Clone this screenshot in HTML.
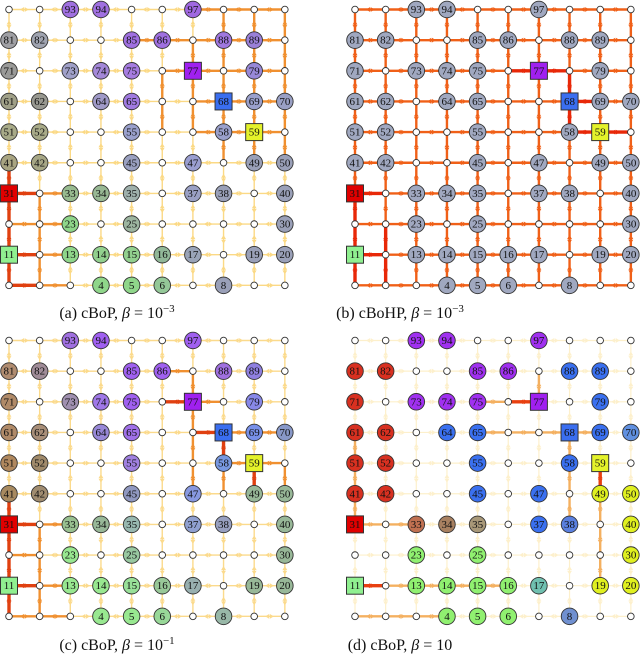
<!DOCTYPE html>
<html><head><meta charset="utf-8">
<style>
body{margin:0;background:#fff;width:640px;height:657px;overflow:hidden}
svg{display:block}
.cap{font-family:"Liberation Serif",serif;font-size:16px;fill:#111}
.lbl{font-family:"Liberation Serif",serif;font-size:11px;fill:#111;text-anchor:middle;dominant-baseline:central}
</style></head>
<body>
<svg id="fig" width="640" height="657" viewBox="0 0 640 657">
<text class="cap" x="117" y="318" text-anchor="middle">(a) cBoP, <tspan font-style="italic">β</tspan> = 10<tspan dy="-6" font-size="11">−3</tspan></text>
<text class="cap" x="400" y="318" text-anchor="middle">(b) cBoHP, <tspan font-style="italic">β</tspan> = 10<tspan dy="-6" font-size="11">−3</tspan></text>
<text class="cap" x="117" y="650" text-anchor="middle">(c) cBoP, <tspan font-style="italic">β</tspan> = 10<tspan dy="-6" font-size="11">−1</tspan></text>
<text class="cap" x="400" y="650" text-anchor="middle">(d) cBoP, <tspan font-style="italic">β</tspan> = 10</text>
</svg>
<script>
const labeled=[4,5,6,8,11,13,14,15,16,17,19,20,23,25,30,31,33,34,35,37,38,40,41,42,45,47,49,50,51,52,55,58,59,61,62,64,65,68,69,70,71,73,74,75,77,79,81,82,85,86,88,89,93,94,97];
const squares={11:'#90f090',31:'#e00000',59:'#e4f22a',68:'#3a6ef0',77:'#a020f0'};
const colorsA={4:'#8fd68a',5:'#8fd68a',6:'#94c898',8:'#9aa0b8',13:'#8fd68a',14:'#92d08e',15:'#92d08e',16:'#92b898',17:'#9aa4b8',19:'#9aa0b8',20:'#9aa0b8',23:'#8fd68a',25:'#9db5a0',30:'#9aa0b8',33:'#98bb90',34:'#98b894',35:'#9fb0ac',37:'#9aa0c4',38:'#9aa0b8',40:'#9aa0b8',41:'#a9a582',42:'#a6a685',45:'#9aa0c0',47:'#9a9ed0',49:'#9aa0b8',50:'#9aa0b8',51:'#a8aa88',52:'#a8aa88',55:'#9aa0cc',58:'#9aa0cc',61:'#a0a088',62:'#989890',64:'#a09ac8',65:'#a07ae0',69:'#9aa0cc',70:'#9aa0c4',71:'#9a9a98',73:'#a0a0c8',74:'#a488d8',75:'#a67ce0',79:'#9888d8',81:'#a0a0a4',82:'#a0a4b0',85:'#a070e0',86:'#a070e0',88:'#a078e0',89:'#9a80d8',93:'#a070e0',94:'#a070e0',97:'#a068e0'};
const colorsC={4:'#98e890',5:'#98e890',6:'#98d898',8:'#98b8a8',13:'#98e890',14:'#98e890',15:'#98e098',16:'#98c898',17:'#98b0b0',19:'#98b898',20:'#98b898',23:'#98e890',25:'#98c8a0',30:'#98b898',33:'#98c090',34:'#98b898',35:'#98b8b0',37:'#90a0d0',38:'#98a0c0',40:'#98b898',41:'#a88a60',42:'#a08c70',45:'#9098c0',47:'#8898e0',49:'#98b898',50:'#98b898',51:'#b0885e',52:'#a08a6a',55:'#a080e0',58:'#7898e0',61:'#b08a68',62:'#a88e78',64:'#9888d8',65:'#a070e8',69:'#7890e8',70:'#8898c8',71:'#b08a68',73:'#a090b0',74:'#a078e8',75:'#a060f0',79:'#8888e8',81:'#b08c70',82:'#a08c98',85:'#a060f0',86:'#a060f0',88:'#a070e0',89:'#9080e0',93:'#a070e0',94:'#a060f0',97:'#a060f0'};
const colorsD={4:'#90f070',5:'#90f070',6:'#90f070',8:'#7090d0',13:'#90f070',14:'#90f070',15:'#90f070',16:'#90f070',17:'#70c0b0',19:'#e0f020',20:'#e0f020',23:'#90f070',25:'#90f070',30:'#e0f020',33:'#c07050',34:'#a88060',35:'#a89878',37:'#3a70f0',38:'#5a80e0',40:'#e0f020',41:'#d83020',42:'#d83020',45:'#3a70f0',47:'#3a70f0',49:'#e0f020',50:'#e0f020',51:'#d83020',52:'#d83020',55:'#3a70f0',58:'#3a70f0',61:'#d83020',62:'#d83020',64:'#3a70f0',65:'#3a70f0',69:'#3a70f0',70:'#6090e0',71:'#d83020',73:'#a030f0',74:'#a030f0',75:'#a030f0',79:'#3a70f0',81:'#d83020',82:'#d83020',85:'#a030f0',86:'#a030f0',88:'#3a70f0',89:'#3a70f0',93:'#a030f0',94:'#a030f0',97:'#a030f0'};
// hot edges [from,to,level] level 1=orange,2=red
const hotA=[[1,11,2],[11,21,2],[21,31,2],[1,2,2],[2,3,1],[11,12,2],[12,13,1],[21,22,1],[22,23,1],[2,12,1],[12,22,1],[22,32,1],[31,32,2],[31,41,2],[32,33,1],[77,78,1],[78,79,1],[79,80,1],[77,76,1],[67,68,1],[68,69,1],[69,70,1],[58,59,1],[59,60,1],[68,58,1],[78,68,1],[77,67,1],[67,57,1],[87,88,1],[88,89,1],[89,90,1],[97,98,1],[98,99,1],[99,100,1],[98,88,1],[99,89,1],[100,90,1],[90,80,1],[80,70,1],[70,60,1],[60,50,1],[57,58,1],[87,77,1],[88,78,1],[89,79,1],[79,69,1],[69,59,1],[59,49,1],[86,87,1],[85,86,1],[76,66,1],[66,56,1],[58,48,1]];
const hotC=[[1,11,2],[11,21,2],[21,31,2],[11,12,2],[31,32,2],[31,41,2],[1,2,1],[2,3,1],[12,13,1],[21,22,1],[2,12,1],[12,22,1],[22,32,1],[32,33,1],[77,76,2],[77,78,1],[68,67,2],[68,69,1],[69,70,1],[68,58,2],[58,59,1],[59,60,1],[59,49,2],[77,87,1],[77,67,1],[67,57,1],[57,47,1],[86,87,1],[60,50,1],[58,48,1]];
const hotB=[[1,11,2],[11,21,2],[21,31,2],[11,12,2],[2,12,2],[12,22,2],[31,32,2],[77,78,2],[68,78,2],[68,58,2],[59,58,2],[59,60,2],[68,69,2],[76,77,2]];
const hotD=[[11,12,2],[12,13,1],[13,14,1],[14,15,1],[15,16,1],[31,32,1],[31,41,1],[41,51,1],[51,61,1],[77,76,2],[76,75,1],[77,87,1],[68,67,1],[67,66,1],[66,65,1],[68,69,1],[68,58,1],[58,48,1],[48,38,1],[59,49,2],[49,39,1],[39,29,1],[29,19,1],[1,2,1],[2,3,1],[3,4,1],[32,33,1]];
const panels=[
 {id:'a',x0:9,y0:9.5,colors:colorsA,hot:hotA,base:'#fbd985',hotc:['#f09030','#e04010'],bw:1.4},
 {id:'b',x0:355,y0:9.5,colors:null,hot:hotB,base:'#f06018',hotc:['#f06018','#e82808'],bw:2.4},
 {id:'c',x0:9,y0:340.5,colors:colorsC,hot:hotC,base:'#fbda8c',hotc:['#f09030','#e04010'],bw:1.4},
 {id:'d',x0:355,y0:340.5,colors:colorsD,hot:hotD,base:'#fdf0cc',hotc:['#f4b060','#e84010'],bw:1.2}];
const NS='http://www.w3.org/2000/svg';
const svg=document.getElementById('fig');
const step=30.65;
function mk(t,a){const e=document.createElementNS(NS,t);for(const k in a)e.setAttribute(k,a[k]);return e;}
function pos(p,n){const c=(n-1)%10,r=Math.floor((n-1)/10);return [p.x0+c*step,p.y0+(9-r)*step];}
panels.forEach(p=>{
 const g=mk('g',{});
 
 
 svg.appendChild(g);
 const hot={};p.hot.forEach(h=>{hot[Math.min(h[0],h[1])+'-'+Math.max(h[0],h[1])]=h;});
 for(let n=1;n<=100;n++){
  const nb=[];if(n%10!==0)nb.push(n+1);if(n<=90)nb.push(n+10);
  nb.forEach(m=>{
   const [x1,y1]=pos(p,n),[x2,y2]=pos(p,m);
   const h=hot[n+'-'+m];
   const col=h?p.hotc[h[2]-1]:p.base;
   const w=h?(h[2]===2?3.4:2.4):p.bw;
   const l=mk('line',{x1:x1,y1:y1,x2:x2,y2:y2,stroke:col,'stroke-width':w});
   
   
   g.appendChild(l);
   [[x1,y1,x2,y2],[x2,y2,x1,y1]].forEach(([ax,ay,bx,by])=>{
     const dx=bx-ax,dy=by-ay,L=Math.hypot(dx,dy),ux=dx/L,uy=dy/L;
     const tx=bx-ux*11,ty=by-uy*11;
     const a=mk('polygon',{points:`${tx},${ty} ${tx-ux*4-uy*2.4},${ty-uy*4+ux*2.4} ${tx-ux*4+uy*2.4},${ty-uy*4-ux*2.4}`,fill:col});
     
     
     g.appendChild(a);
   });
  });
 }
 for(let n=1;n<=100;n++){
  const [x,y]=pos(p,n);
  let e;
  if(squares[n]){
   e=mk('rect',{x:x-8.5,y:y-8.5,width:17,height:17,fill:squares[n],stroke:'#333','stroke-width':1});
  }else if(labeled.includes(n)){
   e=mk('circle',{cx:x,cy:y,r:8.3,fill:p.colors?p.colors[n]:'#a0a8c0',stroke:'#333','stroke-width':0.9});
  }else{
   e=mk('circle',{cx:x,cy:y,r:3.3,fill:'#fff',stroke:'#333','stroke-width':0.9});
  }
  
  
  g.appendChild(e);
  if(labeled.includes(n)){
   const t=mk('text',{x:x,y:y+0.5,class:'lbl'});
   t.textContent=n;
   
   
   g.appendChild(t);
  }
 }
});
</script>
</body></html>
